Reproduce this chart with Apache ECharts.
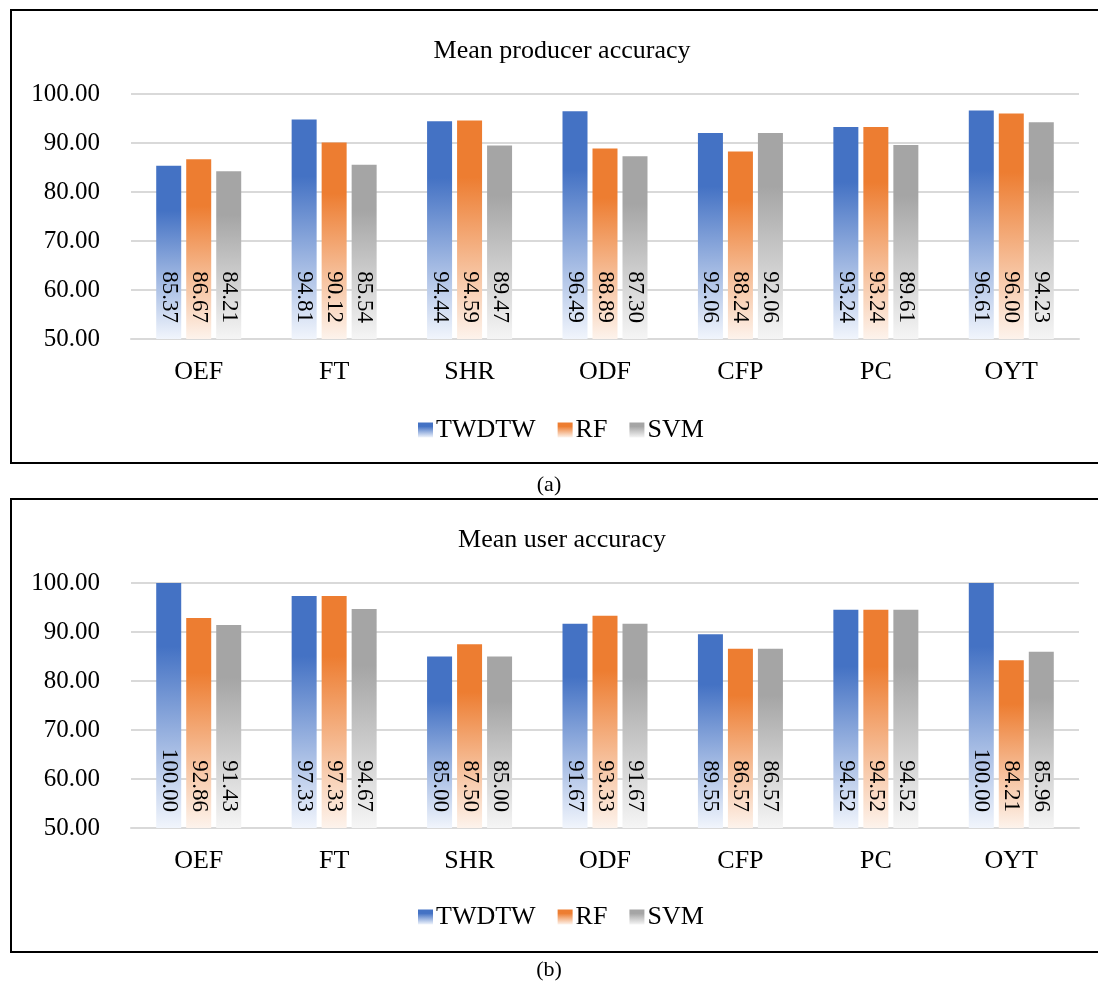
<!DOCTYPE html>
<html>
<head>
<meta charset="utf-8">
<script src="https://cdn.jsdelivr.net/npm/echarts@6/dist/echarts.min.js"></script>
<style>
  html, body { margin: 0; padding: 0; background: #fff; }
  #chart { width: 1098px; height: 987px; }
</style>
</head>
<body>
<div id="chart"></div>
<script>
// Land-cover classes on the x axis
const categories = ['OEF', 'FT', 'SHR', 'ODF', 'CFP', 'PC', 'OYT'];
const methods = ['TWDTW', 'RF', 'SVM'];
const yTicks = [50, 60, 70, 80, 90, 100];

// (a) Mean producer accuracy
const producerTWDTW = [85.37, 94.81, 94.44, 96.49, 92.06, 93.24, 96.61];
const producerRF    = [86.67, 90.12, 94.59, 88.89, 88.24, 93.24, 96.00];
const producerSVM   = [84.21, 85.54, 89.47, 87.30, 92.06, 89.61, 94.23];

// (b) Mean user accuracy
const userTWDTW = [100.00, 97.33, 85.00, 91.67, 89.55, 94.52, 100.00];
const userRF    = [92.86, 97.33, 87.50, 93.33, 86.57, 94.52, 84.21];
const userSVM   = [91.43, 94.67, 85.00, 91.67, 86.57, 94.52, 85.96];

const SERIF = '"Liberation Serif", "Times New Roman", serif';

// Bar fill: solid at the top, fading to a pale tint at the base
function fade(solid, pale) {
  return new echarts.graphic.LinearGradient(0, 0, 0, 1, [
    { offset: 0, color: solid },
    { offset: 0.26, color: solid },
    { offset: 1, color: pale }
  ]);
}
const fills = [
  fade('#4472C4', '#f1f5fc'),
  fade('#ED7D31', '#fdf3ec'),
  fade('#A5A5A5', '#f5f5f5')
];

const gridA = { left: 131, right: 19, top: 94, height: 245 };
const gridB = { left: 131, right: 19, top: 583, height: 245 };

function xAxis(gridIndex) {
  return {
    type: 'category', gridIndex, data: categories,
    axisLine: { lineStyle: { color: '#d9d9d9', width: 2 } },
    axisTick: { show: false },
    axisLabel: { color: '#000', fontFamily: SERIF, fontSize: 26, margin: 20 }
  };
}
function yAxis(gridIndex) {
  return {
    type: 'value', gridIndex,
    min: yTicks[0], max: yTicks[yTicks.length - 1], interval: 10,
    axisLine: { show: false }, axisTick: { show: false },
    axisLabel: {
      color: '#000', fontFamily: SERIF, fontSize: 25, margin: 31,
      formatter: v => v.toFixed(2)
    },
    splitLine: { lineStyle: { color: '#d9d9d9', width: 2 } }
  };
}
function barSeries(name, data, idx, axisIndex) {
  return {
    name, type: 'bar', data,
    xAxisIndex: axisIndex, yAxisIndex: axisIndex,
    barWidth: 25, barGap: '20%', barCategoryGap: '37%',
    itemStyle: { color: fills[idx] },
    label: {
      show: true, position: 'insideBottom', distance: 16,
      rotate: -90, align: 'right', verticalAlign: 'middle',
      color: '#000', fontFamily: SERIF, fontSize: 23,
      formatter: p => p.value.toFixed(2)
    },
    emphasis: { disabled: true }
  };
}
function legend(top) {
  return {
    data: methods, top, left: 413,
    itemWidth: 15, itemHeight: 15, itemGap: 22, icon: 'rect',
    textStyle: { color: '#000', fontFamily: SERIF, fontSize: 26, padding: [0, 0, 0, -2] }
  };
}

const chart = echarts.init(document.getElementById('chart'), null, { renderer: 'canvas' });
chart.setOption({
  animation: false,
  backgroundColor: '#fff',
  title: [
    { text: 'Mean producer accuracy', left: 557, textAlign: 'center', top: 33,
      textStyle: { color: '#000', fontFamily: SERIF, fontSize: 26, fontWeight: 'normal' } },
    { text: 'Mean user accuracy', left: 557, textAlign: 'center', top: 522,
      textStyle: { color: '#000', fontFamily: SERIF, fontSize: 26, fontWeight: 'normal' } }
  ],
  legend: [legend(412), legend(899)],
  grid: [gridA, gridB],
  xAxis: [xAxis(0), xAxis(1)],
  yAxis: [yAxis(0), yAxis(1)],
  series: [
    barSeries('TWDTW', producerTWDTW, 0, 0),
    barSeries('RF', producerRF, 1, 0),
    barSeries('SVM', producerSVM, 2, 0),
    barSeries('TWDTW', userTWDTW, 0, 1),
    barSeries('RF', userRF, 1, 1),
    barSeries('SVM', userSVM, 2, 1)
  ],
  graphic: [
    { type: 'rect', shape: { x: 11, y: 10, width: 1100, height: 453 },
      style: { fill: 'none', stroke: '#000', lineWidth: 2 }, silent: true },
    { type: 'rect', shape: { x: 11, y: 499, width: 1100, height: 453 },
      style: { fill: 'none', stroke: '#000', lineWidth: 2 }, silent: true },
    { type: 'text', x: 549, y: 485,
      style: { text: '(a)', fill: '#000', font: '22px ' + SERIF, align: 'center', verticalAlign: 'middle' } },
    { type: 'text', x: 549, y: 970,
      style: { text: '(b)', fill: '#000', font: '22px ' + SERIF, align: 'center', verticalAlign: 'middle' } }
  ]
});
</script>
</body>
</html>
